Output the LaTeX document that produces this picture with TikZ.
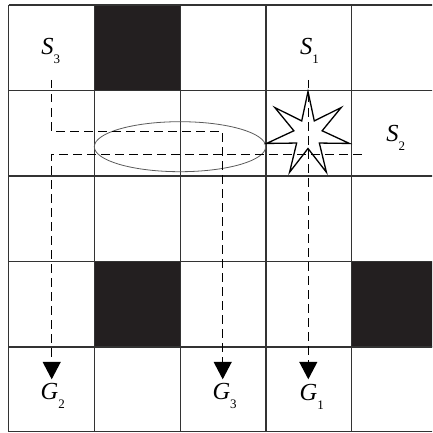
\documentclass[tikz,border=0pt]{standalone}
\usepackage{fontspec}
\setmainfont{Liberation Serif}
\usetikzlibrary{arrows.meta}
\definecolor{gridc}{HTML}{333333}
\definecolor{fillc}{HTML}{231F20}
\definecolor{ellc}{HTML}{5A5A5A}
\newcommand\glab[2]{\textit{#1}\raisebox{-9pt}{\fontsize{13}{13}\selectfont #2}}
\begin{document}
\begin{tikzpicture}[x=1pt,y=-1pt,
  gridline/.style={draw=gridc,line width=1.4pt},
  block/.style={fill=fillc,draw=none},
  lab/.style={inner sep=0pt,anchor=base west,font=\fontsize{24.5}{28}\selectfont},
  route/.style={draw=black,line width=1.4pt,dash pattern=on 8.5pt off 5.5pt,
    -{Triangle[length=17.5pt,width=18pt]}},
  starline/.style={draw=black,line width=1.3pt,line join=miter},
  ell/.style={draw=ellc,line width=0.8pt}]
\useasboundingbox (0,0) rectangle (432,433);
\begin{scope}
\clip (0,0) rectangle (432,433);
% blocked cells
\fill[block] (94.3,5) rectangle (180.3,90.3);
\fill[block] (94.3,261.5) rectangle (180.3,347);
\fill[block] (351.2,261.5) rectangle (440,347);
% grid
\foreach \xx in {8.5,94.3,180.3,266,351.2}{\draw[gridline] (\xx,5) -- (\xx,431.7);}
\foreach \yy in {5,90.3,175.8,261.5,347,431.7}{\draw[gridline] (8.5,\yy) -- (440,\yy);}
\end{scope}
% ellipse
\draw[ell] (180,146.7) ellipse [x radius=85.7pt, y radius=25pt];
% star
\draw[starline] plot[samples at={0,...,13},variable=\k,shift={(308,134)}]
  ({270+\k*180/7}:{ifthenelse(mod(\k,2)==0,42.5,14.5)}) -- cycle;
% labels
\node[lab] (s3) at (41.2,55) {\glab{S}{3}};
\node[lab] (s1) at (300,55) {\glab{S}{1}};
\node[lab] (s2) at (386.2,141.7) {\glab{S}{2}};
\node[lab] (g2) at (40.5,399.8) {\glab{G}{2}};
\node[lab] (g3) at (212.3,399.8) {\glab{G}{3}};
\node[lab] (g1) at (299.5,400) {\glab{G}{1}};
% route coordinates
\coordinate (a3) at (51.7,80);
\coordinate (b3) at (51.7,131.7);
\coordinate (c3) at (222.7,131.7);
\coordinate (t3) at (222.7,379.3);
\coordinate (a2) at (361.7,154.3);
\coordinate (b2) at (51.7,154.3);
\coordinate (t2) at (51.7,379.3);
\coordinate (a1) at (308.3,80);
\coordinate (t1) at (308.3,379.3);
% routes
\draw[route] (a3) -- (b3) -- (c3) -- (t3);
\draw[route] (a2) -- (b2) -- (t2);
\draw[route] (a1) -- (t1);
\end{tikzpicture}
\end{document}
